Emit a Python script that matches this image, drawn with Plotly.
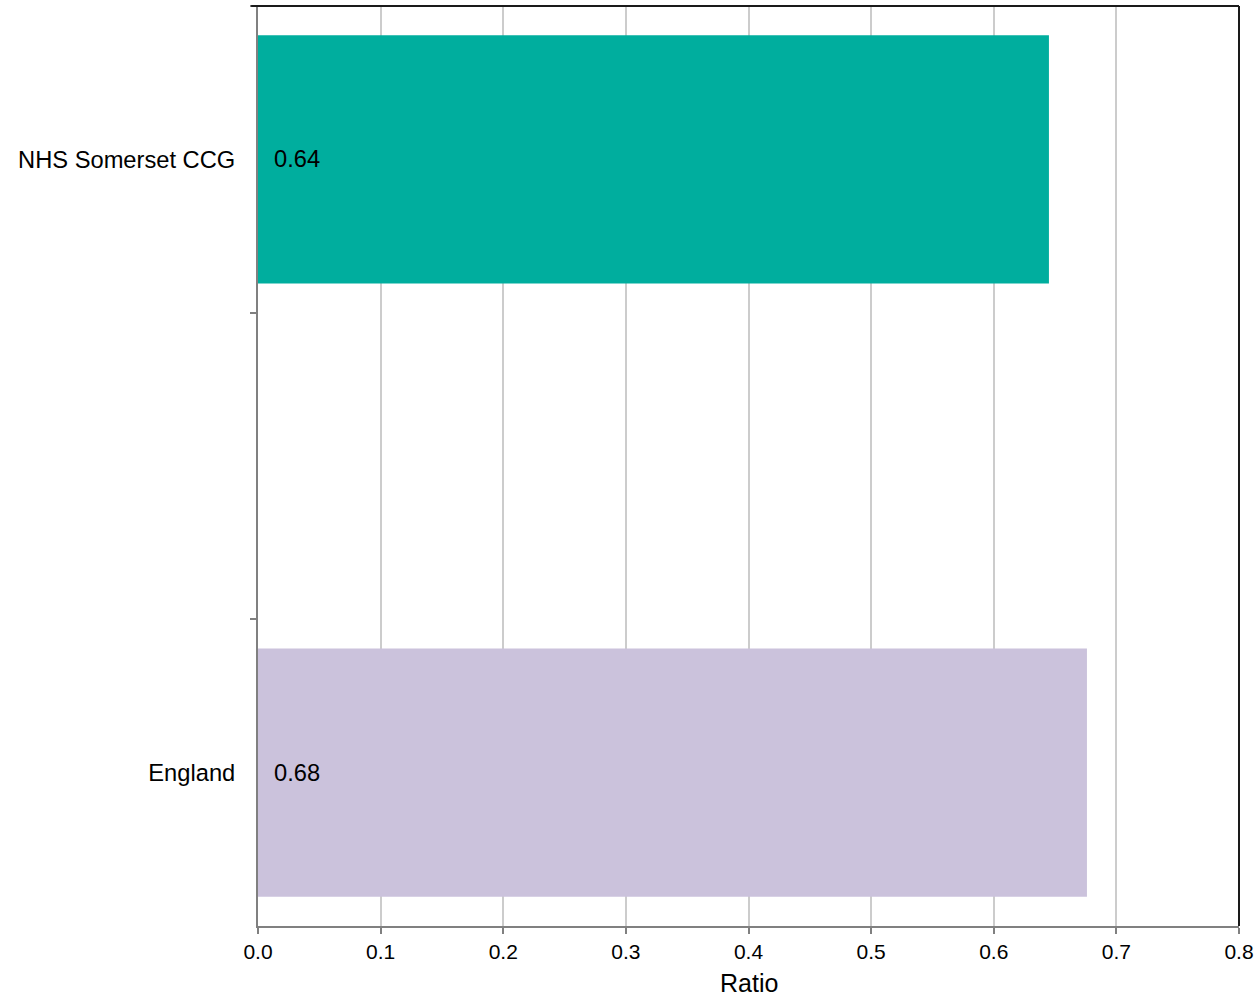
import plotly.graph_objects as go

categories = ["NHS Somerset CCG", " ", "England"]
values = [0.645, None, 0.676]
value_labels = ["0.64", "", "0.68"]
bar_colors = ["#00ae9e", "#ffffff", "#cbc2dc"]
x_ticks = [0.0, 0.1, 0.2, 0.3, 0.4, 0.5, 0.6, 0.7, 0.8]
x_tick_labels = ["0.0", "0.1", "0.2", "0.3", "0.4", "0.5", "0.6", "0.7", "0.8"]
x_title = "Ratio"

FONT = "Liberation Sans, Arial, sans-serif"

fig = go.Figure()
fig.add_trace(go.Bar(
    y=categories, x=values, orientation="h",
    marker=dict(color=bar_colors, line=dict(width=0)),
    hoverinfo="skip", showlegend=False,
))

for cat, v, lab in zip(categories, values, value_labels):
    if v is None:
        continue
    fig.add_annotation(x=0, y=cat, xref="x", yref="y", text=lab,
                       showarrow=False, xanchor="left", xshift=14,
                       font=dict(family=FONT, size=23.7, color="#000000"))

# x axis title
fig.add_annotation(x=0.5, y=0, xref="paper", yref="paper", text=x_title,
                   showarrow=False, xanchor="center", yanchor="middle", yshift=-57,
                   borderpad=0,
                   font=dict(family=FONT, size=25, color="#000000"))

# dark top and right frame lines
fig.add_shape(type="line", xref="paper", yref="paper", x0=-0.007, x1=1, y0=1, y1=1,
              line=dict(color="#1a1a1a", width=2))
fig.add_shape(type="line", xref="paper", yref="paper", x0=1, x1=1, y0=0, y1=1,
              line=dict(color="#1a1a1a", width=2))

fig.update_layout(
    width=1256, height=998,
    margin=dict(l=258, r=17, t=6, b=72, pad=0, autoexpand=False),
    paper_bgcolor="white", plot_bgcolor="white",
    bargap=0.19,
    font=dict(family=FONT, color="#000000"),
    xaxis=dict(
        range=[0, 0.8], tickvals=x_ticks, ticktext=x_tick_labels,
        automargin=False,
        showgrid=True, gridcolor="#cccccc", gridwidth=1.5,
        zeroline=False, showline=True, linecolor="#808080", linewidth=2,
        ticks="outside", ticklen=6, tickcolor="#808080", tickwidth=1.5,
        tickfont=dict(family=FONT, size=21, color="#000000"),
    ),
    yaxis=dict(
        type="category", categoryorder="array", categoryarray=categories,
        autorange="reversed", tickson="boundaries", automargin=False,
        showgrid=False, zeroline=False, showline=True, linecolor="#808080", linewidth=2,
        ticks="outside", ticklen=6, tickcolor="#808080", tickwidth=1.5,
        tickfont=dict(family=FONT, size=23.7, color="#000000"),
        ticklabelstandoff=16,
    ),
)

fig.write_html(
    "out.html",
    config={"displayModeBar": False, "responsive": False},
    post_script=(
        "document.documentElement.style.margin='0';"
        "document.documentElement.style.padding='0';"
        "document.documentElement.style.overflow='hidden';"
        "document.body.style.margin='0';"
        "document.body.style.padding='0';"
        "document.body.style.overflow='hidden';"
    ),
)
